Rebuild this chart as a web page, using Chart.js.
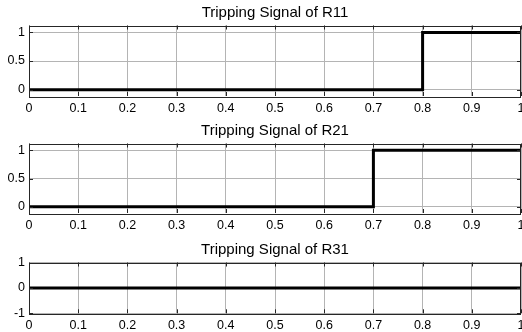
<!DOCTYPE html>
<html>
<head>
<meta charset="utf-8">
<script src="https://cdn.jsdelivr.net/npm/chart.js@4"></script>
<style>
  body { margin: 0; background: #fff; width: 522px; height: 332px; overflow: hidden; position: relative; }
  canvas { position: absolute; left: 0; }
</style>
</head>
<body>
<canvas id="c1" width="522" height="116" style="top:0px"></canvas>
<canvas id="c2" width="522" height="118" style="top:118px"></canvas>
<canvas id="c3" width="522" height="95" style="top:237px"></canvas>
<script>
// time axis (s) and tripping signals
const time = [0, 0.8, 0.8, 1];
const r11 = [0, 0, 1, 1];
const time2 = [0, 0.7, 0.7, 1];
const r21 = [0, 0, 1, 1];
const time3 = [0, 1];
const r31 = [0, 0];

const xTicks = [0, 0.1, 0.2, 0.3, 0.4, 0.5, 0.6, 0.7, 0.8, 0.9, 1];
const yTicks12 = [0, 0.5, 1];
const yTicks3 = [-1, 0, 1];

const titles = ['Tripping Signal of R11', 'Tripping Signal of R21', 'Tripping Signal of R31'];

const gridColor = '#b4b4b4';
const fontFam = "'Liberation Sans', Arial, sans-serif";

// axes frame + small inward ticks
const boxPlugin = {
  id: 'box',
  afterDraw(chart) {
    const a = chart.chartArea, ctx = chart.ctx;
    ctx.save();
    ctx.strokeStyle = '#262626';
    ctx.lineWidth = 1;
    ctx.strokeRect(Math.round(a.left) + 0.5, Math.round(a.top) + 0.5,
      Math.round(a.right - a.left) - 1, Math.round(a.bottom - a.top));
    const xs = chart.scales.x, ys = chart.scales.y;
    ctx.beginPath();
    xs.ticks.forEach(t => {
      const px = Math.round(xs.getPixelForValue(t.value)) + 0.5;
      ctx.moveTo(px, a.bottom); ctx.lineTo(px, a.bottom - 4);
      ctx.moveTo(px, a.top); ctx.lineTo(px, a.top + 4);
    });
    ys.ticks.forEach(t => {
      const py = Math.round(ys.getPixelForValue(t.value)) + 0.5;
      ctx.moveTo(a.left, py); ctx.lineTo(a.left + 4, py);
      ctx.moveTo(a.right, py); ctx.lineTo(a.right - 4, py);
    });
    ctx.stroke();
    ctx.restore();
  }
};

function makeChart(id, xs, ys, title, yMin, yMax, yTicks, xHeight) {
  const pts = xs.map((x, i) => ({ x: x, y: ys[i] }));
  return new Chart(document.getElementById(id), {
    type: 'line',
    data: {
      datasets: [{
        data: pts,
        borderColor: '#000',
        borderWidth: 3,
        pointRadius: 0,
        fill: false,
        tension: 0
      }]
    },
    options: {
      responsive: false,
      animation: false,
      layout: { padding: { left: 0, right: 1, top: 0, bottom: 0 } },
      plugins: {
        legend: { display: false },
        tooltip: { enabled: false },
        title: {
          display: true,
          text: title,
          fullSize: false,
          color: '#000',
          font: { family: fontFam, size: 15, weight: 'normal', lineHeight: 1.2 },
          padding: { top: 4, bottom: 3.5 }
        }
      },
      scales: {
        x: {
          type: 'linear',
          min: 0, max: 1,
          afterBuildTicks: s => { s.ticks = xTicks.map(v => ({ value: v })); },
          afterFit: s => { s.height = xHeight; s.paddingLeft = 0; s.paddingRight = 0; },
          grid: { color: gridColor, lineWidth: 1, drawTicks: false },
          border: { display: false },
          ticks: {
            color: '#000', padding: 5, maxRotation: 0, autoSkip: false,
            font: { family: fontFam, size: 12.5 },
            callback: v => String(v)
          }
        },
        y: {
          min: yMin, max: yMax,
          afterBuildTicks: s => { s.ticks = yTicks.map(v => ({ value: v })); },
          afterFit: s => { s.width = 29; s.paddingTop = 0; s.paddingBottom = 0; },
          grid: { color: gridColor, lineWidth: 1, drawTicks: false },
          border: { display: false },
          ticks: {
            color: '#000', padding: 4,
            font: { family: fontFam, size: 12.5 },
            callback: v => String(v)
          }
        }
      }
    },
    plugins: [boxPlugin]
  });
}

makeChart('c1', time, r11, titles[0], -0.11, 1.12, yTicks12, 20);
makeChart('c2', time2, r21, titles[1], -0.11, 1.12, yTicks12, 23);
makeChart('c3', time3, r31, titles[2], -1, 1, yTicks3, 18.7);
</script>
</body>
</html>
